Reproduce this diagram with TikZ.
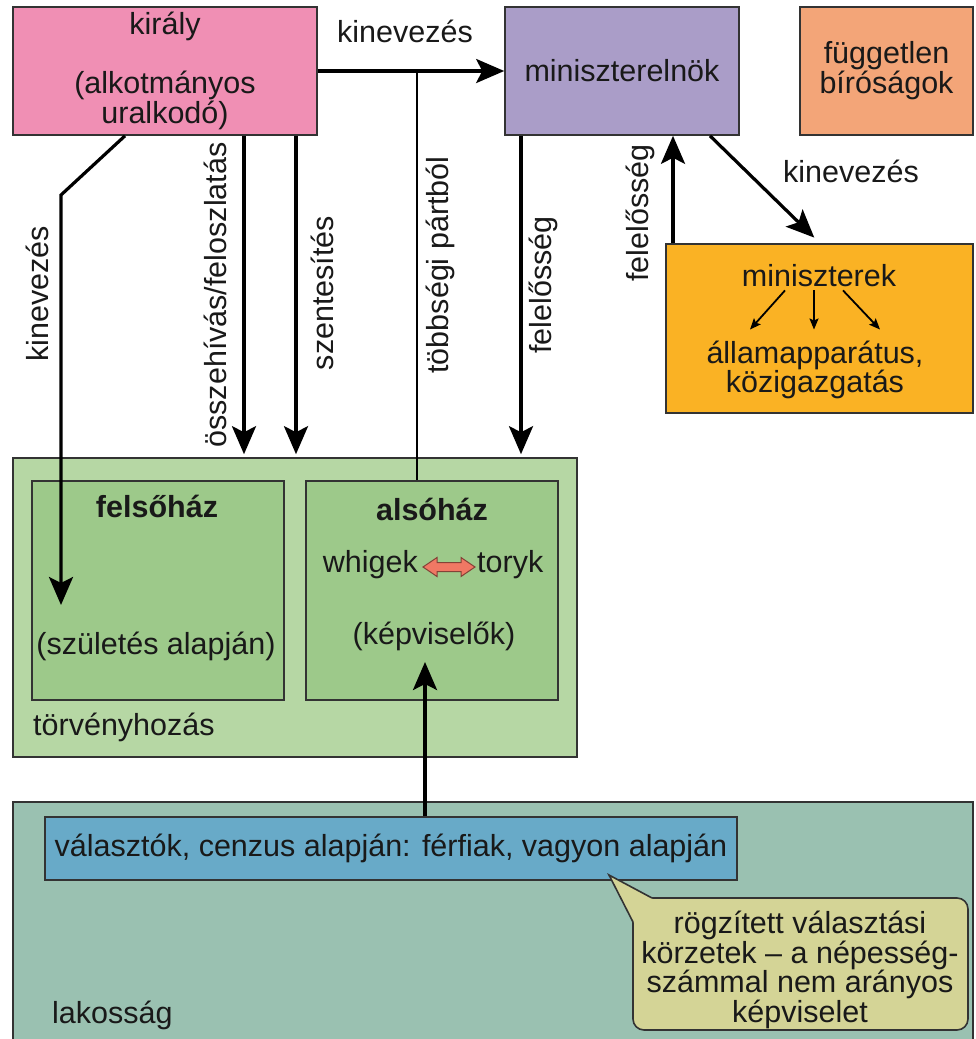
\documentclass[tikz,border=0pt]{standalone}
\usepackage{fontspec}
\setmainfont{Liberation Sans}
\usetikzlibrary{positioning, arrows.meta, calc}

\definecolor{kingpink}{HTML}{F08FB4}
\definecolor{pmviolet}{HTML}{AA9DC8}
\definecolor{courtorange}{HTML}{F3A578}
\definecolor{minsyellow}{HTML}{FAB224}
\definecolor{legisgreen}{HTML}{B6D7A4}
\definecolor{housegreen}{HTML}{9DC98A}
\definecolor{popteal}{HTML}{9AC1B1}
\definecolor{votersblue}{HTML}{68AAC8}
\definecolor{notekhaki}{HTML}{D4D496}
\definecolor{swingred}{HTML}{F07864}

\newcommand{\diagfont}{\fontsize{30.5}{28}\selectfont}
\newcommand{\notefont}{\fontsize{30.5}{27.5}\selectfont}

\begin{document}
\begin{tikzpicture}[
  x=1pt, y=-1pt,
  every node/.style={font=\diagfont, text=black!90},
  box/.style={draw=black!80, line width=1.6pt, rectangle, inner sep=0pt, align=center},
  txt/.style={inner sep=0pt, align=center},
  title/.style={inner sep=0pt, font=\diagfont\bfseries},
  vtxt/.style={inner sep=0pt, rotate=90},
  arrow/.style={-{Stealth[length=28pt, width=24pt, inset=6pt]}, line width=3.2pt},
  link/.style={line width=2.6pt},
  small/.style={-{Stealth[length=11pt, width=9pt, inset=2pt]}, line width=1.8pt}
]

\path[use as bounding box, fill=white] (0,0) rectangle (975,1039);

% Top row
\node[box, fill=kingpink, minimum width=304pt, minimum height=128pt] (king) at (165,71) {király\\[29pt](alkotmányos\\uralkodó)};
\node[box, fill=pmviolet, minimum width=234pt, minimum height=128pt] (pm) at (622,71) {miniszterelnök};
\node[box, fill=courtorange, minimum width=173pt, minimum height=128pt] (courts) at (886.5,71) {független\\bíróságok};

% Ministers
\node[box, fill=minsyellow, minimum width=307pt, minimum height=169pt] (mins) at (819.5,328.5) {};
\node[txt] (minstext) at (819,276) {miniszterek};
\node[txt] (apparat) at (815,370) {államapparátus,\\közigazgatás};

% Legislature
\node[box, fill=legisgreen, minimum width=564pt, minimum height=299pt] (legis) at (295,607.5) {};
\node[box, fill=housegreen, minimum width=252pt, minimum height=219pt] (upper) at (158,590.5) {};
\node[box, fill=housegreen, minimum width=252pt, minimum height=219pt] (lower) at (432,590.5) {};
\node[title, anchor=base] (uppertitle) at (157,517) {felsőház};
\node[txt, anchor=base] (birth) at (156,654) {(születés alapján)};
\node[title, anchor=base] (lowertitle) at (432,520) {alsóház};
\node[txt, anchor=base east] (whigs) at (418,572) {whigek};
\node[txt, anchor=base west] (tories) at (477,572) {toryk};
\node[txt, anchor=base] (mps) at (434,644) {(képviselők)};
\node[txt, anchor=base west] (legislabel) at (33,735) {törvényhozás};
\filldraw[fill=swingred, draw=swingred!55!black, line width=1pt]
  (423,567) -- (437,557.5) -- (437,562.5) -- (461,562.5) -- (461,557.5) -- (475,567)
  -- (461,576.5) -- (461,571.5) -- (437,571.5) -- (437,576.5) -- cycle;

% Population
\node[box, fill=popteal, minimum width=960pt, minimum height=243pt] (pop) at (493,923.5) {};
\node[txt, anchor=base west] (poplabel) at (52,1023) {lakosság};
\node[box, fill=votersblue, minimum width=692pt, minimum height=63pt] (voters) at (391,848.5) {választók, cenzus alapján: férfiak, vagyon alapján};

% Note with pointer
\node[box, rounded corners=11pt, fill=notekhaki, minimum width=335pt, minimum height=132pt] (note) at (800.5,964) {};
\coordinate (notetip) at (609,875);
\coordinate (notebase1) at (633,922);
\coordinate (notebase2) at (652,898);
\fill[notekhaki] (notetip) -- (notebase1) -- (639,922) -- (639,904) -- (652,904) -- (notebase2) -- cycle;
\draw[draw=black!80, line width=1.6pt] (notebase1) -- (notetip) -- (notebase2);
\node[txt, font=\notefont] (notetext) at (800,970) {rögzített választási\\körzetek – a népesség-\\számmal nem arányos\\képviselet};

% Labels
\node[txt, anchor=base] (appointpm) at (405,42) {kinevezés};
\node[txt, anchor=base] (appointmins) at (851,182) {kinevezés};
\node[vtxt] (appointupper) at (37,294) {kinevezés};
\node[vtxt] (summon) at (215,295) {összehívás/feloszlatás};
\node[vtxt] (assent) at (322,293) {szentesítés};
\node[vtxt] (majority) at (440,265) {többségi pártból};
\node[vtxt] (respdown) at (543,285) {felelősség};
\node[vtxt] (respup) at (640,213) {felelősség};

% Arrows
\coordinate (peerend) at (61,605);
\coordinate (electend) at (425,662);

\draw[arrow] (king.east) -- (pm.west);
\draw[link] (417,0 |- lower.north) -- (417,0 |- king.east);
\draw[arrow, shorten >=3pt] (521,0 |- pm.south) -- (521,0 |- legis.north);
\draw[arrow] (673,0 |- mins.north) -- (673,0 |- pm.south);
\draw[arrow, shorten >=8pt] (710,0 |- pm.south) -- (820,0 |- mins.north);

\draw[arrow] (125,0 |- king.south) -- (61,195) -- (peerend);
\draw[arrow, shorten >=3pt] (244,0 |- king.south) -- (244,0 |- legis.north);
\draw[arrow, shorten >=3pt] (296,0 |- king.south) -- (296,0 |- legis.north);

\draw[arrow] (425,0 |- voters.north) -- (electend);

\draw[small] ([xshift=-34pt,yshift=-3pt]minstext.south) -- ([xshift=-65pt,yshift=11pt]apparat.north);
\draw[small] ([xshift=-5pt,yshift=-3pt]minstext.south) -- ([xshift=-1pt,yshift=11pt]apparat.north);
\draw[small] ([xshift=24pt,yshift=-3pt]minstext.south) -- ([xshift=65pt,yshift=11pt]apparat.north);

\end{tikzpicture}
\end{document}
